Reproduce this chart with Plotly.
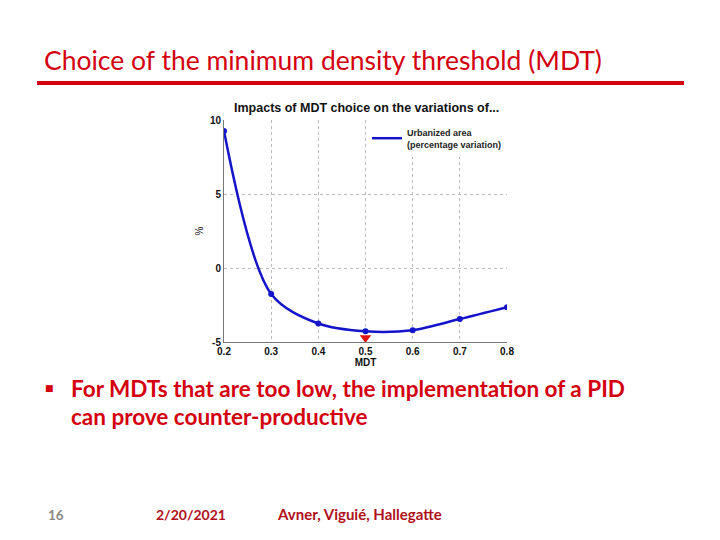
import plotly.graph_objects as go

# ---- data ----
mdt = [0.2, 0.3, 0.4, 0.5, 0.6, 0.7, 0.8]
urban_var = [9.25, -1.75, -3.75, -4.28, -4.2, -3.45, -2.65]
chosen_mdt = [0.5]
chosen_marker_y = [-4.72]
x_ticks = [0.2, 0.3, 0.4, 0.5, 0.6, 0.7, 0.8]
y_ticks = [-5, 0, 5, 10]

slide_title = "Choice of the minimum density threshold (MDT)"
chart_title = "Impacts of MDT choice on the variations of..."
legend_name = "Urbanized area<br>(percentage variation)"
bullet_l1 = "For MDTs that are too low, the implementation of a PID"
bullet_l2 = "can prove counter-productive"
footer_num = "16"
footer_date = "2/20/2021"
footer_auth = "Avner, Viguié, Hallegatte"

BLUE = "#1414c8"
RED = "#d4000f"
DRED = "#b0101a"
SLIDE_FONT = "Lato"

fig = go.Figure()
fig.add_trace(go.Scatter(
    x=mdt, y=urban_var, mode="lines+markers", line_shape="spline",
    line=dict(color=BLUE, width=2.5, smoothing=0.9), marker=dict(color=BLUE, size=6),
    showlegend=False))
fig.add_trace(go.Scatter(
    x=[None], y=[None], mode="lines",
    line=dict(color=BLUE, width=2.5), name=f"<b>{legend_name}</b>"))
fig.add_trace(go.Scatter(
    x=chosen_mdt, y=chosen_marker_y, mode="markers",
    marker=dict(symbol="triangle-down", color="#e01010", size=10),
    showlegend=False))

L, R, T, B = 224, 213, 120, 198
fig.update_layout(
    width=720, height=540, autosize=False,
    margin=dict(l=L, r=R, t=T, b=B),
    paper_bgcolor="white", plot_bgcolor="white",
    showlegend=True,
    legend=dict(x=1, y=1, xanchor="right", yanchor="top",
                bgcolor="white", borderwidth=0,
                font=dict(family="Arial", size=9, color="#222"),
                itemwidth=30, tracegroupgap=0),
    font=dict(family="Arial"),
)
fig.update_xaxes(range=[0.2, 0.8], tickvals=x_ticks,
                 ticktext=[f"<b>{v:.1f}</b>" for v in x_ticks],
                 showline=True, linecolor="#777", linewidth=1,
                 showgrid=True, gridcolor="#bbbbbb", griddash="dot", gridwidth=1,
                 zeroline=False, ticks="",
                 tickfont=dict(family="Arial", size=10, color="#111"),
                 title=dict(text="<b>MDT</b>", font=dict(size=10, color="#111"), standoff=0))
fig.update_yaxes(range=[-5, 10], tickvals=y_ticks,
                 ticktext=[f"<b>{v}</b>" for v in y_ticks],
                 showline=True, linecolor="#777", linewidth=1,
                 showgrid=True, gridcolor="#bbbbbb", griddash="dot", gridwidth=1,
                 zeroline=False, ticks="",
                 tickfont=dict(family="Arial", size=10, color="#111"),
                 title=dict(text="%", font=dict(size=10, color="#111"), standoff=4))

def px_x(x):
    return (x - L) / (720 - L - R)
def px_y(y):
    return 1 - (y - T) / (540 - T - B)

ann = [
    dict(text=f"<b>{chart_title}</b>", x=366, y=108, font=dict(family="Arial", size=12.5, color="#111")),
    dict(text=slide_title, x=42, y=60, xanchor="left", font=dict(family=SLIDE_FONT, size=26.5, color=RED)),
    dict(text="■", x=43, y=388, xanchor="left", font=dict(family="DejaVu Sans", size=9, color=RED)),
    dict(text=f"<b>{bullet_l1}</b>", x=69, y=388, xanchor="left", font=dict(family=SLIDE_FONT, size=22.5, color=RED)),
    dict(text=f"<b>{bullet_l2}</b>", x=69, y=416, xanchor="left", font=dict(family=SLIDE_FONT, size=22.5, color=RED)),
    dict(text=f"<b>{footer_num}</b>", x=46, y=515, xanchor="left", font=dict(family=SLIDE_FONT, size=13.5, color="#888")),
    dict(text=f"<b>{footer_date}</b>", x=154, y=514, xanchor="left", font=dict(family=SLIDE_FONT, size=14, color=DRED)),
    dict(text=f"<b>{footer_auth}</b>", x=275, y=514, xanchor="left", font=dict(family=SLIDE_FONT, size=15, color=DRED)),
]
annotations = []
for a in ann:
    annotations.append(dict(xref="paper", yref="paper", showarrow=False, yanchor="middle",
                            xanchor=a.get("xanchor", "center"), text=a["text"], font=a["font"],
                            x=px_x(a["x"]), y=px_y(a["y"])))
fig.update_layout(annotations=annotations)

fig.add_shape(type="line", xref="paper", yref="paper",
              x0=px_x(37), x1=px_x(684), y0=px_y(83), y1=px_y(83),
              line=dict(color=RED, width=4))
fig.add_shape(type="line", xref="paper", yref="paper",
              x0=px_x(384), x1=px_x(503), y0=px_y(148), y1=px_y(148),
              line=dict(color="#999", width=1))

fig.write_html("out.html", config={"displayModeBar": False},
               post_script="document.body.style.margin='0';")
